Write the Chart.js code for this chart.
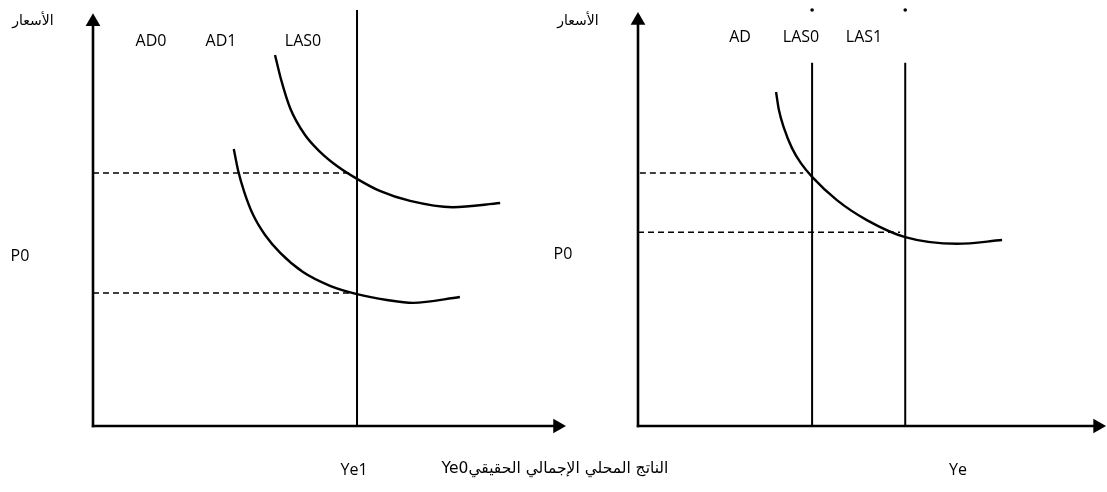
<!DOCTYPE html>
<html><head><meta charset="utf-8">
<script src="https://cdn.jsdelivr.net/npm/chart.js@4"></script>
<style>
html,body{margin:0;padding:0;background:#fff;width:1107px;height:492px;overflow:hidden;position:relative}
canvas{position:absolute;top:0}
.t{position:absolute;transform:translate(-50%,-50%);white-space:nowrap;color:#000;font-family:"Open Sans",sans-serif;font-size:16px;line-height:1}
.ar{font-family:"DejaVu Sans",sans-serif;font-size:14px;direction:rtl}
.ar2{font-size:15.5px}
</style></head><body>
<canvas id="cl" width="580" height="492" style="left:0"></canvas>
<canvas id="cr" width="527" height="492" style="left:580px"></canvas>
<div class="t ar" style="left:33px;top:20px">الأسعار</div>
<div class="t" style="left:151px;top:40px">AD0</div>
<div class="t" style="left:221px;top:40px">AD1</div>
<div class="t" style="left:303px;top:40px">LAS0</div>
<div class="t" style="left:20px;top:255px">P0</div>
<div class="t" style="left:354px;top:469px">Ye1</div>
<div class="t ar ar2" style="left:555px;top:469px">الناتج المحلي الإجمالي الحقيقيYe0</div>
<div class="t ar" style="left:578px;top:20px">الأسعار</div>
<div class="t" style="left:740px;top:36px">AD</div>
<div class="t" style="left:801px;top:36px">LAS0</div>
<div class="t" style="left:864px;top:36px">LAS1</div>
<div class="t" style="left:563px;top:253px">P0</div>
<div class="t" style="left:958px;top:469px">Ye</div>
<script>
// ---- Left panel (units 0..100 on both axes) ----
const leftAD0X = [38.4, 39.7, 41.6, 44.7, 47.9, 51.7, 55.7, 60.5, 66.9, 75.9, 85.9];
const leftAD0Y = [89.2, 83.2, 76.4, 70.0, 65.9, 62.3, 59.4, 56.5, 54.1, 52.6, 53.6];
const leftAD1X = [29.7, 30.6, 31.9, 33.8, 36.3, 39.5, 44.3, 50.0, 55.7, 62.0, 67.5, 77.4];
const leftAD1Y = [66.6, 61.5, 56.3, 50.7, 45.9, 41.6, 37.0, 33.7, 31.7, 30.3, 29.6, 31.0];
const leftLAS0 = 55.7;
const leftLASTop = 100;
const leftPriceHigh = 60.8;
const leftPriceLow = 32.0;
const leftDashEnd = 54.6;
const leftAxisYEnd = 97.2;
const leftAxisXEnd = 98.0;

// ---- Right panel ----
const rightADX = [29.5, 30.1, 31.2, 32.9, 34.8, 37.2, 42.5, 48.9, 57.1, 68.2, 77.8];
const rightADY = [80.3, 76.0, 71.6, 66.8, 63.2, 59.9, 54.3, 49.5, 45.4, 43.8, 44.7];
const rightLAS0 = 37.2;
const rightLAS1 = 57.1;
const rightLASTop = 87.3;
const rightDotY = 100;
const rightPriceHigh = 60.8;
const rightPriceLow = 46.6;
const rightDashHighEnd = 35.3;
const rightDashLowEnd = 56.0;
const rightAxisYEnd = 97.5;
const rightAxisXEnd = 98.2;

const pts = (xs, ys) => xs.map((x, i) => ({x, y: ys[i]}));
const seg = (x0, y0, x1, y1) => [{x: x0, y: y0}, {x: x1, y: y1}];

function lineDS(data, opts) {
  return Object.assign({
    data, showLine: true, borderColor: '#000', backgroundColor: '#000',
    borderWidth: 2, pointRadius: 0, pointHoverRadius: 0, fill: false, clip: false
  }, opts || {});
}
function axisDS(data, rot) {
  return lineDS(data, {borderWidth: 2.6, pointRadius: [0, 8.5], pointStyle: 'triangle',
    rotation: rot, pointBorderWidth: 0, pointBackgroundColor: '#000'});
}
function makeChart(id, padding, datasets) {
  return new Chart(document.getElementById(id), {
    type: 'scatter',
    data: {datasets},
    options: {
      responsive: false, animation: false, devicePixelRatio: 1,
      layout: {padding, autoPadding: false},
      plugins: {legend: {display: false}, tooltip: {enabled: false}},
      events: [],
      scales: {
        x: {type: 'linear', min: 0, max: 100, display: false},
        y: {type: 'linear', min: 0, max: 100, display: false}
      }
    }
  });
}
const dash = {borderWidth: 1.5, borderDash: [6, 4]};
const curve = {borderWidth: 2.4, cubicInterpolationMode: 'monotone'};

makeChart('cl', {left: 93, right: 13, top: 10, bottom: 66}, [
  axisDS(seg(0, -0.3, 0, leftAxisYEnd), 0),
  axisDS(seg(-0.25, 0, leftAxisXEnd, 0), 90),
  lineDS(seg(leftLAS0, 0, leftLAS0, leftLASTop)),
  lineDS(pts(leftAD0X, leftAD0Y), curve),
  lineDS(pts(leftAD1X, leftAD1Y), curve),
  lineDS(seg(0, leftPriceHigh, leftDashEnd, leftPriceHigh), dash),
  lineDS(seg(0, leftPriceLow, leftDashEnd, leftPriceLow), dash)
]);

makeChart('cr', {left: 58, right: 1, top: 10, bottom: 66}, [
  axisDS(seg(0, -0.3, 0, rightAxisYEnd), 0),
  axisDS(seg(-0.25, 0, rightAxisXEnd, 0), 90),
  lineDS(seg(rightLAS0, 0, rightLAS0, rightLASTop)),
  lineDS(seg(rightLAS1, 0, rightLAS1, rightLASTop)),
  lineDS([{x: rightLAS0, y: rightDotY}, {x: rightLAS1, y: rightDotY}], {showLine: false, pointRadius: 0.8}),
  lineDS(pts(rightADX, rightADY), curve),
  lineDS(seg(0.4, rightPriceHigh, rightDashHighEnd, rightPriceHigh), dash),
  lineDS(seg(0, rightPriceLow, rightDashLowEnd, rightPriceLow), dash)
]);
</script>
</body></html>
